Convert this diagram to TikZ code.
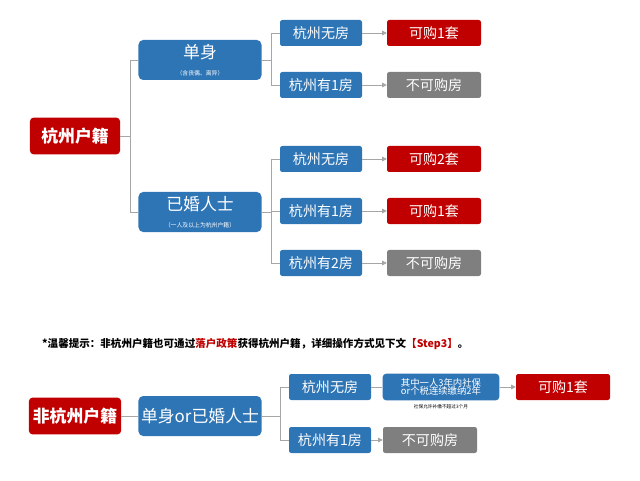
\documentclass[tikz,border=0pt]{standalone}
\usepackage{fontspec}
\setmainfont{Noto Sans CJK SC}
\usetikzlibrary{arrows.meta}
\definecolor{hzred}{HTML}{C00000}
\definecolor{hzblue}{HTML}{2E75B6}
\definecolor{hzgray}{HTML}{7F7F7F}
\definecolor{hzline}{HTML}{A6A6A6}
\tikzset{
  redbox/.style={fill=hzred,text=white,rounded corners=3pt,minimum width=2.7cm,minimum height=1.1cm,font=\bfseries\Large},
  bigbox/.style={fill=hzblue,text=white,rounded corners=4pt,minimum width=3.69cm,minimum height=1.2cm,align=center,font=\Large,inner sep=1pt},
  housebox/.style={fill=hzblue,text=white,rounded corners=2pt,minimum width=2.46cm,minimum height=0.78cm,font=\large},
  okbox/.style={fill=hzred,text=white,rounded corners=2pt,minimum width=2.82cm,minimum height=0.78cm,font=\large},
  nobox/.style={fill=hzgray,text=white,rounded corners=2pt,minimum width=2.82cm,minimum height=0.78cm,font=\large},
  link/.style={draw=hzline,line width=0.6pt},
  arrow/.style={link,-{Triangle[length=4pt,width=4pt]}}
}
\begin{document}
\begin{tikzpicture}[x=0.03cm,y=-0.03cm]
\useasboundingbox (0,0) rectangle (640,481);
% Hangzhou hukou
\node[redbox] (hz) at (75,136) {杭州户籍};
\node[bigbox] (single) at (200,60) {单身\\[-4pt]{\tiny（含丧偶、离异）}};
\node[bigbox] (married) at (200,212) {已婚人士\\[-4pt]{\tiny（一人及以上为杭州户籍）}};
\node[housebox] (s0) at (321,33) {杭州无房};
\node[housebox] (s1) at (321,85) {杭州有1房};
\node[okbox] (s0r) at (434,33) {可购1套};
\node[nobox] (s1r) at (434,85) {不可购房};
\node[housebox] (m0) at (321,159) {杭州无房};
\node[housebox] (m1) at (321,211) {杭州有1房};
\node[housebox] (m2) at (321,263) {杭州有2房};
\node[okbox] (m0r) at (434,159) {可购2套};
\node[okbox] (m1r) at (434,211) {可购1套};
\node[nobox] (m2r) at (434,263) {不可购房};
\draw[link] (hz.east) -- (130,136) (130,60) -- (single.west) (130,212) -- (married.west) (130,60) -- (130,212);
\draw[link] (single.east) -- (271,60) (271,33) -- (s0.west) (271,85) -- (s1.west) (271,33) -- (271,85);
\draw[link] (married.east) -- (271,212) (271,159) -- (m0.west) (271,263) -- (m2.west) (271,159) -- (271,263) (271,211) -- (m1.west);
\foreach \a in {s0,s1,m0,m1,m2}
  \draw[arrow] (\a.east) -- (\a r.west);
% note
\node[anchor=west,font=\small\bfseries] (note) at (38,344) {*温馨提示：非杭州户籍也可通过\textcolor{hzred}{落户政策}获得杭州户籍，详细操作方式见下文\textcolor{hzred}{【Step3】}。};
% non-Hangzhou hukou
\node[redbox] (nhz) at (75,416) {非杭州户籍};
\node[bigbox] (any) at (200,416) {单身or已婚人士};
\node[housebox] (n0) at (330,387) {杭州无房};
\node[housebox] (n1) at (330,440) {杭州有1房};
\node[fill=hzblue,text=white,rounded corners=3pt,minimum width=3.5cm,minimum height=0.8cm,align=center,font=\footnotesize,inner sep=1pt] (cond) at (441,387) {其中一人3年内社保\\[-3pt]or个税连续缴纳2年};
\node[font=\fontsize{4}{5}\selectfont] (condnote) at (441,407) {社保允许补缴不超过3个月};
\node[okbox] (n0r) at (563,387) {可购1套};
\node[nobox] (n1r) at (430,440) {不可购房};
\draw[link] (nhz.east) -- (any.west);
\draw[link] (any.east) -- (280,416) (280,387) -- (n0.west) (280,440) -- (n1.west) (280,387) -- (280,440);
\draw[link] (n0.east) -- (cond.west);
\draw[arrow] (cond.east) -- (n0r.west);
\draw[arrow] (n1.east) -- (n1r.west);
\end{tikzpicture}
\end{document}
